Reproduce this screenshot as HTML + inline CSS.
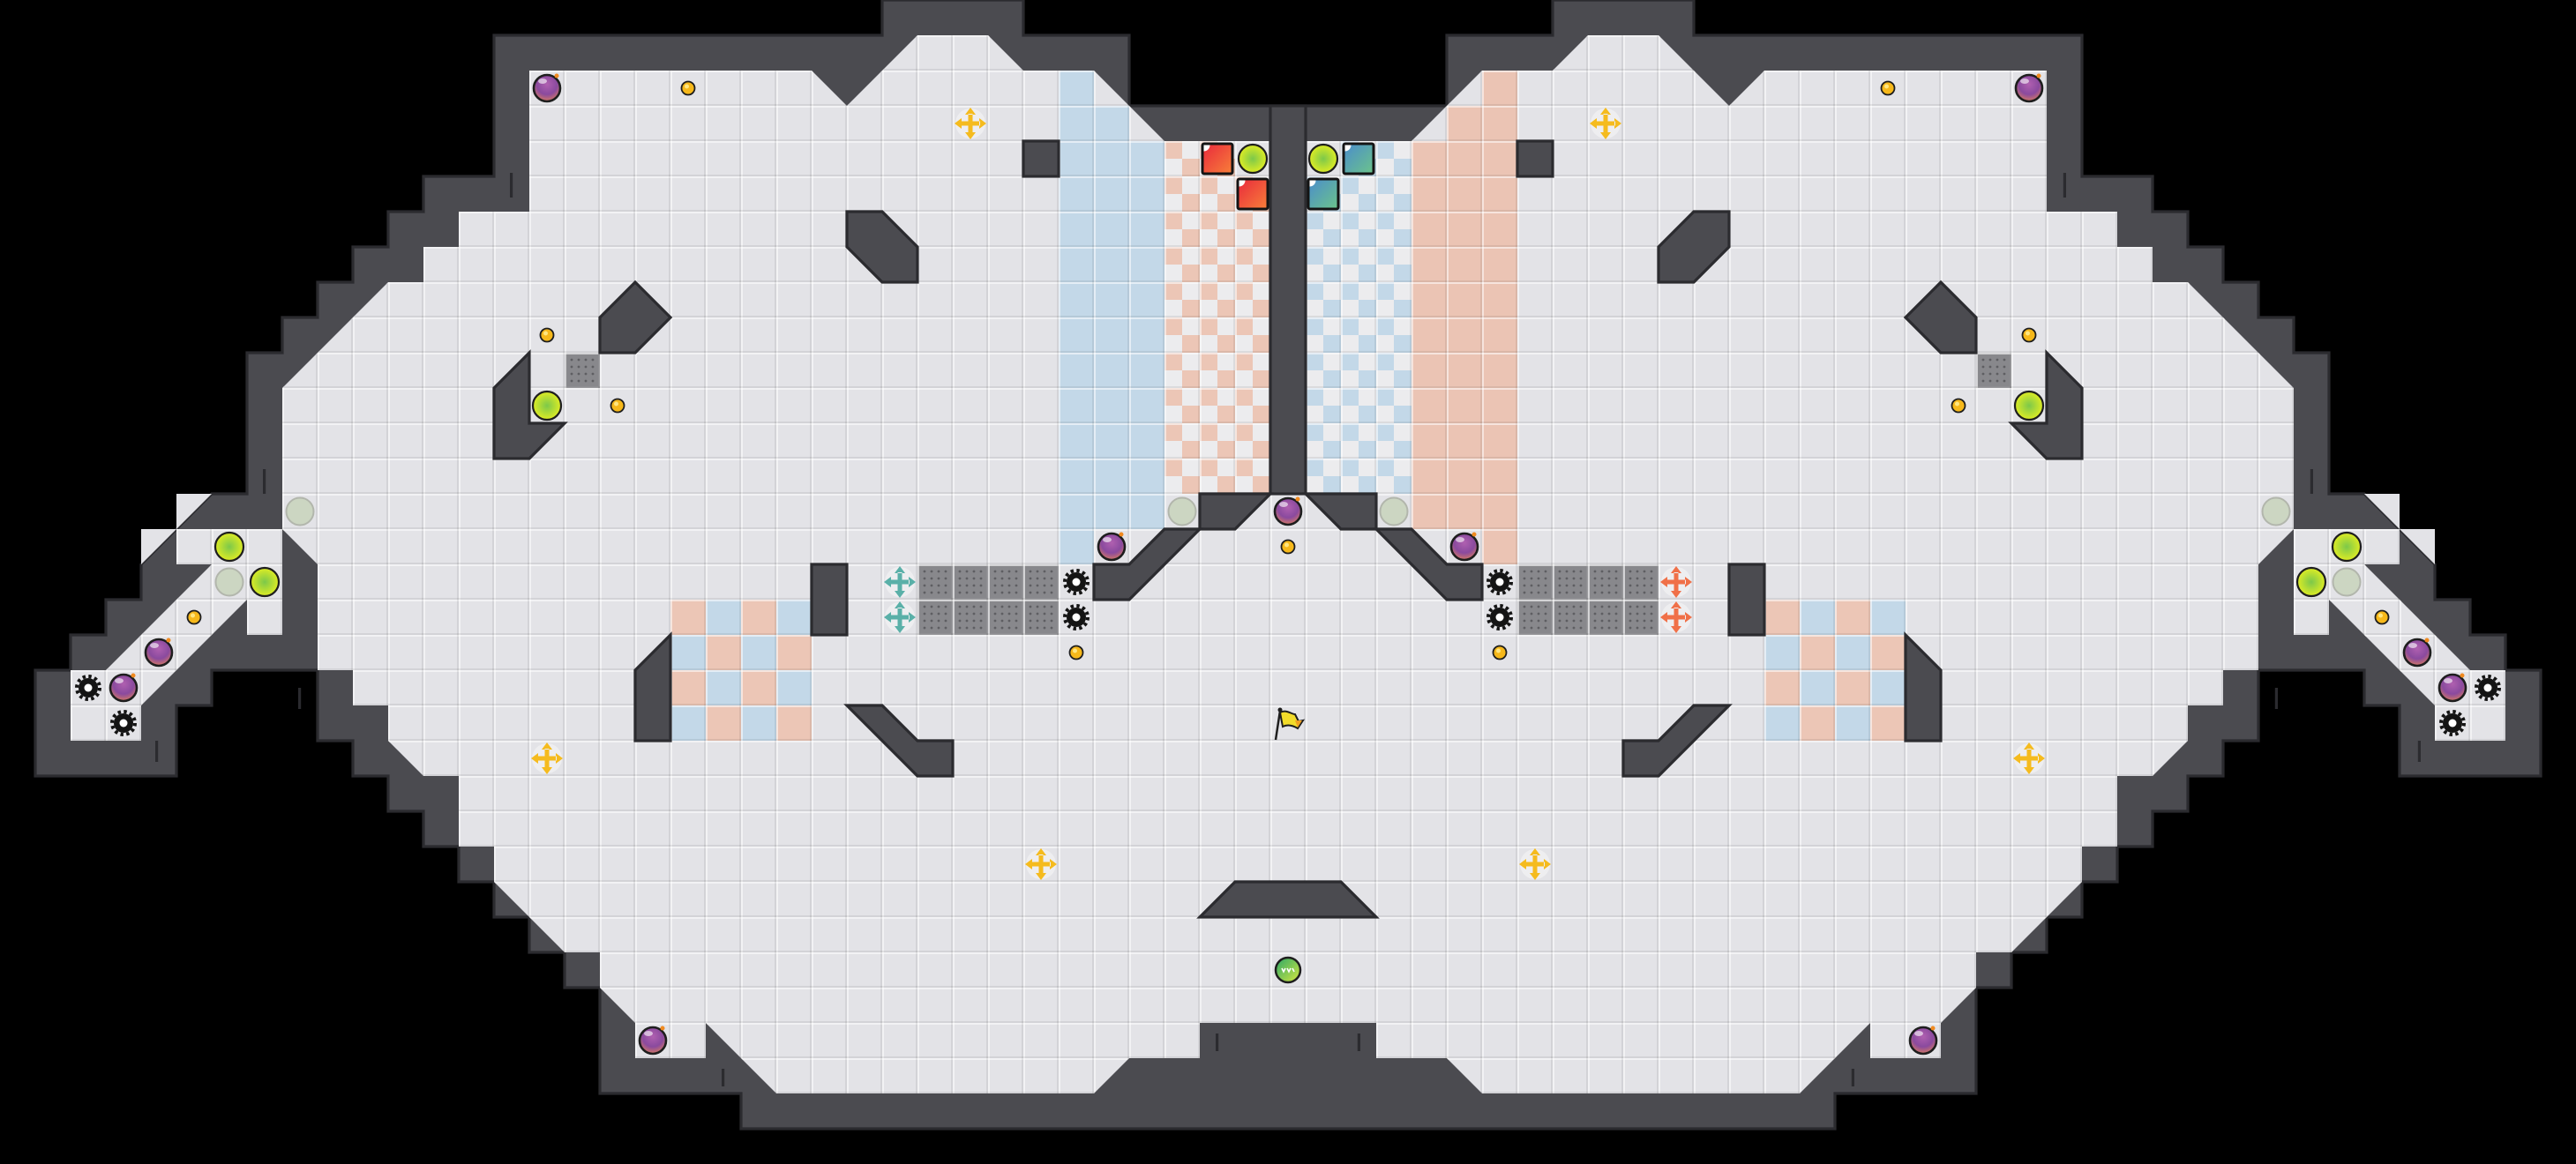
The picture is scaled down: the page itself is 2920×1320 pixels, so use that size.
<!DOCTYPE html>
<html><head><meta charset="utf-8"><style>html,body{margin:0;padding:0;background:#000}svg{display:block}</style></head>
<body>
<svg width="2920" height="1320" viewBox="0 0 2920 1320" xmlns="http://www.w3.org/2000/svg">
<defs>
<pattern id="grid" width="1" height="1" patternUnits="userSpaceOnUse">
<rect x="0" y="0" width="1" height="0.05" fill="#ffffff" opacity="0.55"/>
<rect x="0" y="0" width="0.05" height="1" fill="#ffffff" opacity="0.55"/>
<rect x="0" y="0.95" width="1" height="0.05" fill="#000" opacity="0.07"/>
<rect x="0.95" y="0" width="0.05" height="1" fill="#000" opacity="0.07"/>
</pattern>
<pattern id="chkP" x="0" y="0" width="1" height="1" patternUnits="userSpaceOnUse">
<rect width="1" height="1" fill="#ececee"/><rect width="0.5" height="0.5" fill="#ecc6b6"/><rect x="0.5" y="0.5" width="0.5" height="0.5" fill="#ecc6b6"/>
</pattern>
<pattern id="chkB" x="0" y="0" width="1" height="1" patternUnits="userSpaceOnUse">
<rect width="1" height="1" fill="#ececee"/><rect width="0.5" height="0.5" fill="#c3d8e8"/><rect x="0.5" y="0.5" width="0.5" height="0.5" fill="#c3d8e8"/>
</pattern>
<pattern id="grate" width="1" height="1" patternUnits="userSpaceOnUse">
<rect width="1" height="1" fill="#88888c"/>
<rect x="0.02" y="0.02" width="0.96" height="0.96" fill="none" stroke="#a5a5a8" stroke-width="0.04"/>
<g fill="#5e5e62">
<circle cx="0.2" cy="0.2" r="0.035"/><circle cx="0.4" cy="0.2" r="0.035"/><circle cx="0.6" cy="0.2" r="0.035"/><circle cx="0.8" cy="0.2" r="0.035"/>
<circle cx="0.2" cy="0.4" r="0.035"/><circle cx="0.4" cy="0.4" r="0.035"/><circle cx="0.6" cy="0.4" r="0.035"/><circle cx="0.8" cy="0.4" r="0.035"/>
<circle cx="0.2" cy="0.6" r="0.035"/><circle cx="0.4" cy="0.6" r="0.035"/><circle cx="0.6" cy="0.6" r="0.035"/><circle cx="0.8" cy="0.6" r="0.035"/>
<circle cx="0.2" cy="0.8" r="0.035"/><circle cx="0.4" cy="0.8" r="0.035"/><circle cx="0.6" cy="0.8" r="0.035"/><circle cx="0.8" cy="0.8" r="0.035"/>
</g>
</pattern>
<radialGradient id="bombG" cx="0.5" cy="0.35" r="0.7"><stop offset="0" stop-color="#b060b0"/><stop offset="0.55" stop-color="#8a4a9e"/><stop offset="1" stop-color="#e2805a"/></radialGradient>
<radialGradient id="yelG" cx="0.5" cy="0.5" r="0.55"><stop offset="0" stop-color="#7cc84a"/><stop offset="1" stop-color="#e8f020"/></radialGradient>
<linearGradient id="redG" x1="0" y1="0" x2="1" y2="1"><stop offset="0" stop-color="#e8283c"/><stop offset="1" stop-color="#f8803a"/></linearGradient>
<linearGradient id="tealG" x1="0" y1="0" x2="1" y2="1"><stop offset="0" stop-color="#4a8ccc"/><stop offset="1" stop-color="#6cc48a"/></linearGradient>
<linearGradient id="grnG" x1="0" y1="0" x2="1" y2="1"><stop offset="0" stop-color="#2aa868"/><stop offset="1" stop-color="#d8e840"/></linearGradient>
<g id="bomb"><circle r="15" fill="url(#bombG)" stroke="#1e1e1e" stroke-width="2.6"/><ellipse cx="-5" cy="-8" rx="5" ry="3" fill="#fff" opacity="0.6"/><circle cx="11" cy="-14" r="2.5" fill="#f08a20"/></g>
<g id="coin"><circle r="7.5" fill="#f6b81a" stroke="#1e1e1e" stroke-width="1.8"/><circle cx="-1.5" cy="-2" r="2.5" fill="#ffe680"/></g>
<g id="yel"><circle r="16" fill="url(#yelG)" stroke="#1e1e1e" stroke-width="2.2"/></g>
<g id="gray"><circle r="15.5" fill="#ccd6c2" stroke="#b2b6ac" stroke-width="2"/></g>
<g id="gear"><circle r="11" fill="#141414"/><circle r="13" fill="none" stroke="#141414" stroke-width="4" stroke-dasharray="3.4 3.4"/><circle r="4.5" fill="#fff"/></g>
<g id="cross"><circle r="17" fill="#ffffff" opacity="0.4"/><path d="M-2.5,-11 h5 v8.5 h8.5 v5 h-8.5 v8.5 h-5 v-8.5 h-8.5 v-5 h8.5z M0,-18 l-6,8 h12z M0,18 l-6,-8 h12z M-18,0 l8,-6 v12z M18,0 l-8,-6 v12z" fill="currentColor"/></g>
<g id="redb"><rect x="-17" y="-17" width="34" height="34" rx="2" fill="url(#redG)" stroke="#141414" stroke-width="3"/><path d="M-15.5,-15.5 h7 a7,7 0 0 1 -7,7z" fill="#fff"/></g>
<g id="tealb"><rect x="-17" y="-17" width="34" height="34" rx="2" fill="url(#tealG)" stroke="#141414" stroke-width="3"/><path d="M-15.5,-15.5 h7 a7,7 0 0 1 -7,7z" fill="#fff"/></g>
</defs>

<rect width="2920" height="1320" fill="#000"/>

<g transform="scale(40)" stroke-linejoin="miter">
<!-- walls -->
<polygon fill="#4b4b50" stroke="#2b2b2f" stroke-width="0.08" points="32,3 32,1 29,1 29,0 25,0 25,1 14,1 14,5 12,5 12,6 11,6 11,7 10,7 10,8 9,8 9,9 8,9 8,10 7,10 7,14 6,14 5,15 4,16 4,17 3,17 3,18 2,18 2,19 1,19 1,22 5,22 5,20 6,20 6,19 9,19 9,21 10,21 10,22 11,22 11,23 12,23 12,24 13,24 13,25 14,25 14,26 15,26 15,27 16,27 16,28 17,28 17,31 21,31 21,32 52,32 52,31 56,31 56,28 57,28 57,27 58,27 58,26 59,26 59,25 60,25 60,24 61,24 61,23 62,23 62,22 63,22 63,21 64,21 64,19 67,19 67,20 68,20 68,22 72,22 72,19 71,19 71,18 70,18 70,17 69,17 69,16 68,15 67,14 66,14 66,10 65,10 65,9 64,9 64,8 63,8 63,7 62,7 62,6 61,6 61,5 59,5 59,1 48,1 48,0 44,0 44,1 41,1 41,3"/>
<!-- floors -->
<g fill="#e3e3e7">
<polygon id="fmain" points="36,4 33,4 31,2 29,2 28,1 26,1 24,3 23,2 15,2 15,6 13,6 13,7 12,7 12,8 11,8 8,11 8,15 9,16 9,19 10,19 10,20 11,20 11,21 12,22 13,22 13,24 14,24 14,25 16,27 17,27 17,28 18,29 18,30 20,30 20,29 22,31 31,31 32,30 34,30 34,29 39,29 39,30 41,30 42,31 51,31 53,29 53,30 55,30 55,29 56,28 56,27 57,27 59,25 59,24 60,24 60,22 61,22 62,21 62,20 63,20 63,19 64,19 64,16 65,15 65,11 62,8 61,8 61,7 60,7 60,6 58,6 58,2 50,2 49,3 47,1 45,1 44,2 42,2 40,4 37,4"/>
<polygon points="5,15 8,15 8,18 7,18 7,17 4,20 4,21 2,21 2,19 3,19 6,16 5,16"/>
<polygon points="68,15 65,15 65,18 66,18 66,17 69,20 69,21 71,21 71,19 70,19 67,16 68,16"/>
<polygon points="5,14 6,14 5,15"/><polygon points="4,15 5,15 4,16"/>
<polygon points="68,14 67,14 68,15"/><polygon points="69,15 68,15 69,16"/>
</g>
<!-- colored areas -->
<polygon fill="#c3d8e8" points="30,2 31,2 31,3 32,3 32,4 33,4 33,15 31,15 31,16 30,16"/>
<polygon fill="#ebc4b4" points="43,2 42,2 42,3 41,3 41,4 40,4 40,15 42,15 42,16 43,16"/>
<rect x="33" y="4" width="3" height="10" fill="url(#chkP)"/>
<rect x="37" y="4" width="3" height="10" fill="url(#chkB)"/>
<rect x="35" y="4" width="1" height="1" fill="#e3e3e7"/><rect x="37" y="4" width="1" height="1" fill="#e3e3e7"/>
<g>
<rect x="19" y="17" width="1" height="1" fill="#ecc6b6"/><rect x="20" y="17" width="1" height="1" fill="#c3d8e8"/><rect x="21" y="17" width="1" height="1" fill="#ecc6b6"/><rect x="22" y="17" width="1" height="1" fill="#c3d8e8"/>
<rect x="19" y="18" width="1" height="1" fill="#c3d8e8"/><rect x="20" y="18" width="1" height="1" fill="#ecc6b6"/><rect x="21" y="18" width="1" height="1" fill="#c3d8e8"/><rect x="22" y="18" width="1" height="1" fill="#ecc6b6"/>
<rect x="19" y="19" width="1" height="1" fill="#ecc6b6"/><rect x="20" y="19" width="1" height="1" fill="#c3d8e8"/><rect x="21" y="19" width="1" height="1" fill="#ecc6b6"/><rect x="22" y="19" width="1" height="1" fill="#c3d8e8"/>
<rect x="19" y="20" width="1" height="1" fill="#c3d8e8"/><rect x="20" y="20" width="1" height="1" fill="#ecc6b6"/><rect x="21" y="20" width="1" height="1" fill="#c3d8e8"/><rect x="22" y="20" width="1" height="1" fill="#ecc6b6"/>
</g>
<g>
<rect x="50" y="17" width="1" height="1" fill="#ecc6b6"/><rect x="51" y="17" width="1" height="1" fill="#c3d8e8"/><rect x="52" y="17" width="1" height="1" fill="#ecc6b6"/><rect x="53" y="17" width="1" height="1" fill="#c3d8e8"/>
<rect x="50" y="18" width="1" height="1" fill="#c3d8e8"/><rect x="51" y="18" width="1" height="1" fill="#ecc6b6"/><rect x="52" y="18" width="1" height="1" fill="#c3d8e8"/><rect x="53" y="18" width="1" height="1" fill="#ecc6b6"/>
<rect x="50" y="19" width="1" height="1" fill="#ecc6b6"/><rect x="51" y="19" width="1" height="1" fill="#c3d8e8"/><rect x="52" y="19" width="1" height="1" fill="#ecc6b6"/><rect x="53" y="19" width="1" height="1" fill="#c3d8e8"/>
<rect x="50" y="20" width="1" height="1" fill="#c3d8e8"/><rect x="51" y="20" width="1" height="1" fill="#ecc6b6"/><rect x="52" y="20" width="1" height="1" fill="#c3d8e8"/><rect x="53" y="20" width="1" height="1" fill="#ecc6b6"/>
</g>
<!-- grates -->
<rect x="26" y="16" width="4" height="2" fill="url(#grate)"/>
<rect x="43" y="16" width="4" height="2" fill="url(#grate)"/>
<rect x="16" y="10" width="1" height="1" fill="url(#grate)"/>
<rect x="56" y="10" width="1" height="1" fill="url(#grate)"/>
<!-- grid overlay -->
<use href="#fmain" fill="url(#grid)"/>
<g fill="url(#grid)">
<polygon points="5,15 8,15 8,18 7,18 7,17 4,20 4,21 2,21 2,19 3,19 6,16 5,16"/>
<polygon points="68,15 65,15 65,18 66,18 66,17 69,20 69,21 71,21 71,19 70,19 67,16 68,16"/>
</g>
<!-- obstacles -->
<g fill="#4b4b50" stroke="#2b2b2f" stroke-width="0.08">
<rect x="36" y="3" width="1" height="11"/>
<rect x="29" y="4" width="1" height="1"/><rect x="43" y="4" width="1" height="1"/>
<polygon points="24,6 25,6 26,7 26,8 25,8 24,7"/><polygon points="49,6 48,6 47,7 47,8 48,8 49,7"/>
<polygon points="18,8 19,9 18,10 17,10 17,9"/><polygon points="55,8 54,9 55,10 56,10 56,9"/>
<polygon points="15,10 15,12 16,12 15,13 14,13 14,11"/><polygon points="58,10 58,12 57,12 58,13 59,13 59,11"/>
<polygon points="34,14 36,14 35,15 34,15"/><polygon points="39,14 37,14 38,15 39,15"/>
<polygon points="31,16 32,16 33,15 34,15 32,17 31,17"/><polygon points="42,16 41,16 40,15 39,15 41,17 42,17"/>
<rect x="23" y="16" width="1" height="2"/><rect x="49" y="16" width="1" height="2"/>
<polygon points="19,18 19,21 18,21 18,19"/><polygon points="54,18 54,21 55,21 55,19"/>
<polygon points="24,20 25,20 26,21 27,21 27,22 26,22"/><polygon points="49,20 48,20 47,21 46,21 46,22 47,22"/>
<polygon points="35,25 38,25 39,26 34,26"/>
</g>
<!-- wall marks -->
<g fill="#2b2b2f">
<rect x="14.45" y="4.9" width="0.08" height="0.7"/><rect x="58.47" y="4.9" width="0.08" height="0.7"/>
<rect x="7.45" y="13.3" width="0.08" height="0.7"/><rect x="65.47" y="13.3" width="0.08" height="0.7"/>
<rect x="8.45" y="19.5" width="0.08" height="0.6"/><rect x="64.47" y="19.5" width="0.08" height="0.6"/>
<rect x="4.4" y="21" width="0.08" height="0.6"/><rect x="68.52" y="21" width="0.08" height="0.6"/>
<rect x="20.45" y="30.3" width="0.08" height="0.5"/><rect x="52.47" y="30.3" width="0.08" height="0.5"/>
<rect x="34.45" y="29.3" width="0.08" height="0.5"/><rect x="38.47" y="29.3" width="0.08" height="0.5"/>
</g>
</g>

<!-- objects (pixel coords: tile*40+20) -->
<g>
<use href="#bomb" x="620" y="100"/><use href="#bomb" x="2300" y="100"/>
<use href="#bomb" x="1260" y="620"/><use href="#bomb" x="1660" y="620"/>
<use href="#bomb" x="1460" y="580"/>
<use href="#bomb" x="740" y="1180"/><use href="#bomb" x="2180" y="1180"/>
<use href="#bomb" x="180" y="740"/><use href="#bomb" x="2740" y="740"/>
<use href="#bomb" x="140" y="780"/><use href="#bomb" x="2780" y="780"/>

<use href="#coin" x="780" y="100"/><use href="#coin" x="2140" y="100"/>
<use href="#coin" x="620" y="380"/><use href="#coin" x="2300" y="380"/>
<use href="#coin" x="700" y="460"/><use href="#coin" x="2220" y="460"/>
<use href="#coin" x="1460" y="620"/>
<use href="#coin" x="1220" y="740"/><use href="#coin" x="1700" y="740"/>
<use href="#coin" x="220" y="700"/><use href="#coin" x="2700" y="700"/>

<use href="#yel" x="620" y="460"/><use href="#yel" x="2300" y="460"/>
<use href="#yel" x="260" y="620"/><use href="#yel" x="2660" y="620"/>
<use href="#yel" x="300" y="660"/><use href="#yel" x="2620" y="660"/>
<use href="#yel" x="1420" y="180"/><use href="#yel" x="1500" y="180"/>

<use href="#gray" x="340" y="580"/><use href="#gray" x="2580" y="580"/>
<use href="#gray" x="1340" y="580"/><use href="#gray" x="1580" y="580"/>
<use href="#gray" x="260" y="660"/><use href="#gray" x="2660" y="660"/>

<use href="#gear" x="1220" y="660"/><use href="#gear" x="1220" y="700"/>
<use href="#gear" x="1700" y="660"/><use href="#gear" x="1700" y="700"/>
<use href="#gear" x="100" y="780"/><use href="#gear" x="2820" y="780"/>
<use href="#gear" x="140" y="820"/><use href="#gear" x="2780" y="820"/>

<g style="color:#f5bb1e">
<use href="#cross" x="1100" y="140"/><use href="#cross" x="1820" y="140"/>
<use href="#cross" x="620" y="860"/><use href="#cross" x="2300" y="860"/>
<use href="#cross" x="1180" y="980"/><use href="#cross" x="1740" y="980"/>
</g>
<g style="color:#5ab0a8"><use href="#cross" x="1020" y="660"/><use href="#cross" x="1020" y="700"/></g>
<g style="color:#f07048"><use href="#cross" x="1900" y="660"/><use href="#cross" x="1900" y="700"/></g>

<use href="#redb" x="1380" y="180"/><use href="#redb" x="1420" y="220"/>
<use href="#tealb" x="1540" y="180"/><use href="#tealb" x="1500" y="220"/>

<!-- flag -->
<g transform="translate(1460,820)">
<line x1="-14" y1="19" x2="-9" y2="-14" stroke="#1e1e1e" stroke-width="2.5"/>
<circle cx="-9" cy="-15" r="2.5" fill="#1e1e1e"/>
<path d="M-9,-12 C-2,-16 4,-10 8,-10 L12,-2 L17,-3 L11,6 C6,3 0,1 -6,4 Z" fill="#f2dc2a" stroke="#1e1e1e" stroke-width="2"/>
<path d="M8,-3 L16,-3 L11,5z" fill="#f0a020"/>
</g>
<!-- green ball -->
<g transform="translate(1460,1100)">
<circle r="14" fill="url(#grnG)" stroke="#1e1e1e" stroke-width="2.5"/>
<path d="M-7,-2 l2,4 l2,-4 M-1,-2 l2,4 l2,-4 M5,-2 l2,4" stroke="#fff" stroke-width="1.6" fill="none"/>
</g>
</g>
</svg>
</body></html>
